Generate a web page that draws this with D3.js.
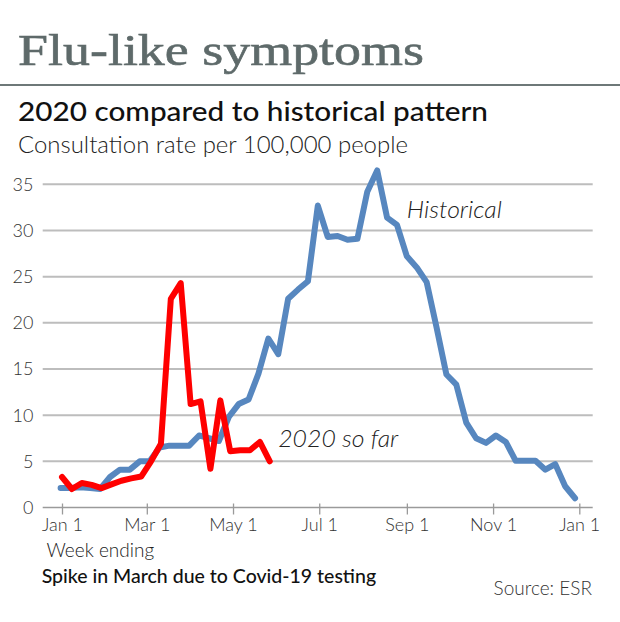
<!DOCTYPE html>
<html>
<head>
<meta charset="utf-8">
<script src="https://cdn.jsdelivr.net/npm/d3@7"></script>
<style>
  html, body { margin: 0; padding: 0; background: #fff; }
  svg { display: block; }
  .light { font-family: Lato, Roboto, "Open Sans", sans-serif; font-weight: 300; }
</style>
</head>
<body>
<svg id="chart" width="620" height="622"></svg>
<script>
// ---- data ----
const titleText = "Flu-like symptoms";
const subtitleText = "2020 compared to historical pattern";
const unitText = "Consultation rate per 100,000 people";
const xAxisLabel = "Week ending";
const noteText = "Spike in March due to Covid-19 testing";
const sourceText = "Source: ESR";

const yTicks = [0, 5, 10, 15, 20, 25, 30, 35];
const xTickDates = ["2020-01-01", "2020-03-01", "2020-05-01", "2020-07-01", "2020-09-01", "2020-11-01", "2021-01-01"];

// historical weekly values, first week ending 31 Dec 2019
const historicalStart = "2019-12-31";
const historicalValues = [2.1, 2.1, 2.2, 2.1, 2.0, 3.3, 4.1, 4.1, 5.0, 5.0,
  6.5, 6.7, 6.7, 6.7, 7.8, 7.5, 7.2, 9.8, 11.2, 11.7,
  14.5, 18.3, 16.6, 22.6, 23.6, 24.5, 32.7, 29.3, 29.4, 29.0,
  29.1, 34.2, 36.5, 31.4, 30.6, 27.2, 26.0, 24.4, 19.5, 14.4,
  13.3, 9.2, 7.5, 7.0, 7.8, 7.1, 5.05, 5.05, 5.05, 4.1,
  4.7, 2.3, 1.0];

// 2020 weekly values, first week ending 1 Jan 2020
const y2020Start = "2020-01-01";
const y2020Values = [3.3, 2.0, 2.65, 2.45, 2.1, 2.5, 2.9, 3.15, 3.35, 5.0,
  6.9, 22.6, 24.3, 11.2, 11.5, 4.2, 11.6, 6.1, 6.2, 6.2,
  7.1, 5.0];

const seriesLabels = [
  { text: "Historical", date: "2020-09-01", value: 31.3, width: 95 },
  { text: "2020 so far", date: "2020-06-02", value: 6.6, width: 120 }
];

// ---- chart ----
const parse = d3.timeParse("%Y-%m-%d");
const svg = d3.select("#chart");

const x = d3.scaleTime()
  .domain([parse("2020-01-01"), parse("2021-01-01")])
  .range([62, 579.3]);
const y = d3.scaleLinear().domain([0, 35]).range([507.5, 184.3]);

const weekly = (start, values) => values.map((v, i) => ({
  date: d3.timeDay.offset(parse(start), 7 * i), value: v
}));
const historical = weekly(historicalStart, historicalValues);
const y2020 = weekly(y2020Start, y2020Values);

// Title
svg.append("text")
  .attr("x", 18).attr("y", 65)
  .attr("font-family", "'Liberation Serif', 'DejaVu Serif', serif")
  .attr("font-size", 45)
  .attr("fill", "#5e6a6a")
  .attr("stroke", "#5e6a6a").attr("stroke-width", 0.6)
  .attr("textLength", 406).attr("lengthAdjust", "spacingAndGlyphs")
  .text(titleText);

svg.append("line")
  .attr("x1", 0).attr("x2", 620).attr("y1", 85).attr("y2", 85)
  .attr("stroke", "#6e7878").attr("stroke-width", 2);

svg.append("text")
  .attr("x", 18).attr("y", 121)
  .attr("font-family", "Lato, Roboto, 'Open Sans', sans-serif")
  .attr("font-weight", 500)
  .attr("font-size", 27)
  .attr("fill", "#111")
  .attr("textLength", 470).attr("lengthAdjust", "spacingAndGlyphs")
  .text(subtitleText);

svg.append("text")
  .attr("class", "light")
  .attr("x", 18).attr("y", 152.7)
  .attr("font-size", 24)
  .attr("fill", "#222")
  .attr("textLength", 390).attr("lengthAdjust", "spacingAndGlyphs")
  .text(unitText);

// Gridlines
const gridX1 = 42.7, gridX2 = 592.7;
svg.append("g").selectAll("line")
  .data(yTicks.filter(d => d > 0))
  .join("line")
  .attr("x1", gridX1).attr("x2", gridX2)
  .attr("y1", d => y(d)).attr("y2", d => y(d))
  .attr("stroke", "#bdbdbd").attr("stroke-width", 2);

// Y labels
svg.append("g").selectAll("text")
  .data(yTicks)
  .join("text")
  .attr("class", "light")
  .attr("x", 33.5).attr("y", d => y(d))
  .attr("dy", "0.36em")
  .attr("text-anchor", "end")
  .attr("font-size", 18)
  .attr("fill", "#333")
  .text(d => d);

// X axis
const xAxis = d3.axisBottom(x)
  .tickValues(xTickDates.map(parse))
  .tickFormat(d3.timeFormat("%b %-d"))
  .tickSizeOuter(0)
  .tickSize(7)
  .tickPadding(4);
const gx = svg.append("g")
  .attr("transform", `translate(0,${y(0)})`)
  .call(xAxis);
gx.select(".domain").remove();
gx.selectAll(".tick line").attr("y1", -4).attr("stroke", "#9a9a9a").attr("stroke-width", 1.3);
gx.selectAll(".tick text")
  .attr("class", "light")
  .attr("font-size", 18)
  .attr("fill", "#333");
svg.insert("line", "g")
  .attr("x1", gridX1).attr("x2", gridX2)
  .attr("y1", y(0)).attr("y2", y(0))
  .attr("stroke", "#9a9a9a").attr("stroke-width", 1.5);

// Lines
const line = d3.line().x(d => x(d.date)).y(d => y(d.value));
svg.append("path")
  .datum(historical)
  .attr("d", line)
  .attr("fill", "none")
  .attr("stroke", "#5787bf")
  .attr("stroke-width", 6)
  .attr("stroke-linejoin", "round")
  .attr("stroke-linecap", "round");

svg.append("path")
  .datum(y2020)
  .attr("d", line)
  .attr("fill", "none")
  .attr("stroke", "#ff0000")
  .attr("stroke-width", 6)
  .attr("stroke-linejoin", "round")
  .attr("stroke-linecap", "round");

// Series labels
svg.append("g").selectAll("text")
  .data(seriesLabels)
  .join("text")
  .attr("class", "light")
  .attr("x", d => x(parse(d.date)))
  .attr("y", d => y(d.value))
  .attr("font-size", 23)
  .attr("font-style", "italic")
  .attr("fill", "#222")
  .attr("textLength", d => d.width).attr("lengthAdjust", "spacingAndGlyphs")
  .text(d => d.text);

// Footer
svg.append("text")
  .attr("class", "light")
  .attr("x", 46.5).attr("y", 556.7)
  .attr("font-size", 19)
  .attr("fill", "#222")
  .text(xAxisLabel);

svg.append("text")
  .attr("x", 41.7).attr("y", 583.3)
  .attr("font-family", "Lato, Roboto, 'Open Sans', sans-serif")
  .attr("font-weight", 500)
  .attr("font-size", 19.5)
  .attr("fill", "#111")
  .text(noteText);

svg.append("text")
  .attr("class", "light")
  .attr("x", 592).attr("y", 595)
  .attr("text-anchor", "end")
  .attr("font-size", 19)
  .attr("fill", "#333")
  .text(sourceText);
</script>
</body>
</html>
